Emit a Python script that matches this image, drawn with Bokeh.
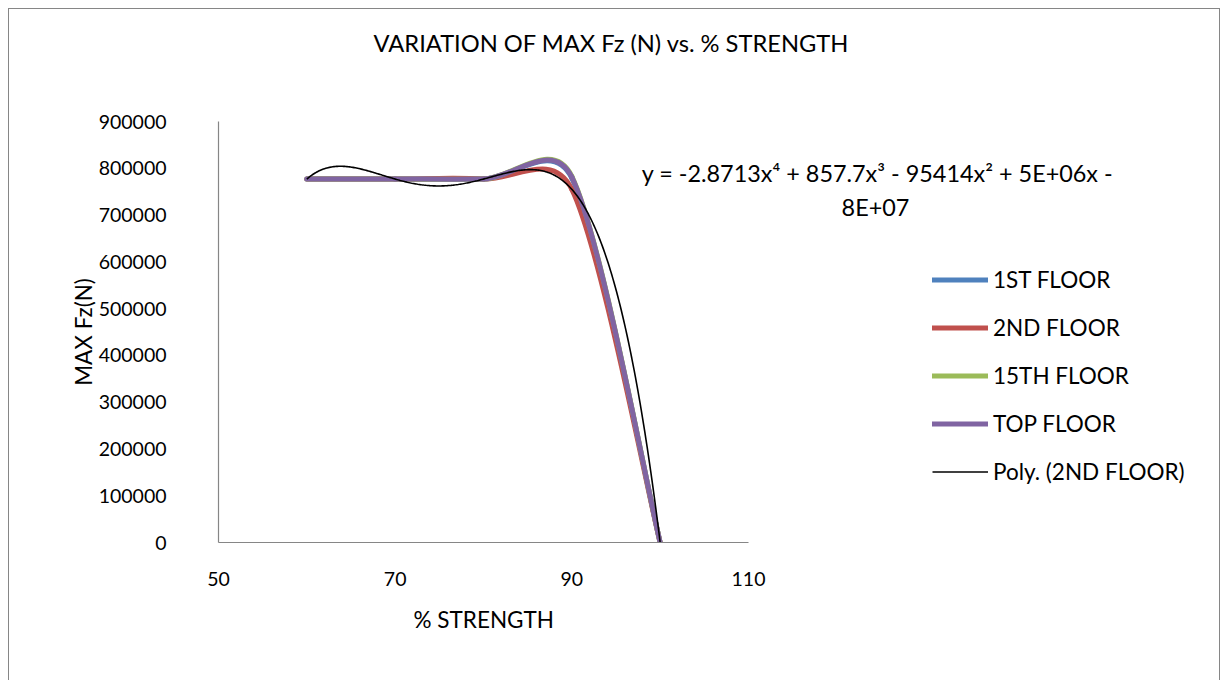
import numpy as np
from bokeh.plotting import figure
from bokeh.models import Range1d, Legend, LegendItem, Label, FixedTicker, BasicTickFormatter, Title
from bokeh.embed import file_html
from bokeh.resources import INLINE

# ---------------- data ----------------
strength = [60, 70, 80, 90, 100]
floor_1st = [777000, 777000, 777000, 779000, 0]
floor_2nd = [777000, 777000, 777000, 755000, 0]
floor_15th = [777000, 777000, 777000, 783000, 0]
floor_top = [777000, 777000, 777000, 781000, 0]

series_names = ["1ST FLOOR", "2ND FLOOR", "15TH FLOOR", "TOP FLOOR"]
series_colors = ["#4F81BD", "#C0504D", "#9BBB59", "#8064A2"]
x_ticks = [50, 70, 90, 110]
y_ticks = [0, 100000, 200000, 300000, 400000, 500000, 600000, 700000, 800000, 900000]

title_text = "VARIATION OF MAX Fz (N)  vs.  % STRENGTH"
x_title = "% STRENGTH"
y_title = "MAX Fz(N)"
eq_line1 = "y = -2.8713x\u2074 + 857.7x\u00b3 - 95414x\u00b2 + 5E+06x -"
eq_line2 = "8E+07"

# ---------------- geometry ----------------
X0, X1 = 50, 110          # visible axis extent
Y0, Y1 = 0, 900000
W, H = 1212, 672
LEFT, TOP, RIGHT = 209, 112, 2
AXIS_W, FRAME_H = 530, 421  # pixel length of the drawn x axis / frame height
PX_PER_X = AXIS_W / (X1 - X0)
X_END = X0 + (W - LEFT - RIGHT) / PX_PER_X   # frame extends right for legend/equation
OFF = 9  # page offset of canvas (8px margin + 1px border)
FONT = "Lato"
FS_NUM = "19.5px"
FS_TXT = "22.5px"
FS_TITLE = "23.7px"
FS_EQ = "23.4px"


def page_to_data(px, py):
    x = X0 + (px - OFF - LEFT) / PX_PER_X
    y = Y0 + (OFF + TOP + FRAME_H - py) / FRAME_H * (Y1 - Y0)
    return x, y


def excel_smooth(xs, ys):
    """Bezier segments as Excel's smoothed line (computed in screen space)."""
    sx = PX_PER_X
    sy = FRAME_H / (Y1 - Y0)
    P = [np.array([x * sx, y * sy]) for x, y in zip(xs, ys)]
    n = len(P)
    segs = {k: [] for k in ["x0", "y0", "x1", "y1", "cx0", "cy0", "cx1", "cy1"]}
    for i in range(n - 1):
        p0 = P[i - 1] if i > 0 else P[i]
        p1, p2 = P[i], P[i + 1]
        p3 = P[i + 2] if i + 2 < n else P[i + 1]
        d02 = np.linalg.norm(p2 - p0)
        d12 = np.linalg.norm(p2 - p1)
        d13 = np.linalg.norm(p3 - p1)
        f0 = 1 / 6
        f1 = 1 / 6
        if d02 > 0 and d02 / 6 >= d12 / 2:
            f0 = d12 / d02 / 2
        if d13 > 0 and d13 / 6 >= d12 / 2:
            f1 = d12 / d13 / 2
        c1 = p1 + f0 * (p2 - p0)
        c2 = p2 - f1 * (p3 - p1)
        segs["x0"].append(p1[0] / sx); segs["y0"].append(p1[1] / sy)
        segs["x1"].append(p2[0] / sx); segs["y1"].append(p2[1] / sy)
        segs["cx0"].append(c1[0] / sx); segs["cy0"].append(c1[1] / sy)
        segs["cx1"].append(c2[0] / sx); segs["cy1"].append(c2[1] / sy)
    return segs


p = figure(width=W, height=H, output_backend="svg", toolbar_location=None,
           x_range=Range1d(X0, X_END), y_range=Range1d(Y0, Y1),
           min_border_left=LEFT, min_border_top=TOP,
           min_border_right=RIGHT, min_border_bottom=H - TOP - FRAME_H)
p.styles = {"margin-left": "8px", "margin-top": "8px",
            "border-top": "1px solid #868686", "border-left": "1px solid #868686",
            "border-right": "1px solid #868686"}
p.outline_line_color = None
p.xgrid.grid_line_color = None
p.ygrid.grid_line_color = None
p.background_fill_color = "white"
p.border_fill_color = "white"
p.title.text = ""

for ax in (p.xaxis[0], p.yaxis[0]):
    ax.axis_line_color = "#868686"
    ax.axis_line_width = 1.2
    ax.major_tick_line_color = None
    ax.minor_tick_line_color = None
    ax.major_tick_in = 0
    ax.major_tick_out = 0
    ax.major_label_text_font = FONT
    ax.major_label_text_font_size = FS_NUM
    ax.major_label_text_color = "black"
    ax.axis_label_text_font = FONT
    ax.axis_label_text_font_size = FS_TXT
    ax.axis_label_text_font_style = "normal"
    ax.axis_label_text_color = "black"

p.xaxis.bounds = (X0, X1)
p.yaxis.bounds = (Y0, Y1)
p.xaxis.ticker = FixedTicker(ticks=x_ticks)
p.yaxis.ticker = FixedTicker(ticks=y_ticks)
p.yaxis.formatter = BasicTickFormatter(use_scientific=False)
p.xaxis.major_label_standoff = 29
p.yaxis.major_label_standoff = 52
p.yaxis.axis_label = y_title
p.yaxis.axis_label_standoff = -1

# chart title: a small spacer title sits between the frame and the real title
spacer = Title(text=" ", text_font_size="1px", standoff=62)
main_title = Title(text=title_text, align="left", offset=155, text_font=FONT,
                   text_font_size=FS_TITLE, text_font_style="normal",
                   text_color="black", standoff=0)
p.add_layout(spacer, "above")
p.add_layout(main_title, "above")

xt = Title(text=x_title, align="left", offset=195, text_font=FONT, text_font_size=FS_TXT,
           text_font_style="normal", text_color="black", standoff=30)
p.add_layout(xt, "below")

renderers = []
for name, color, ys in zip(series_names, series_colors,
                           [floor_1st, floor_2nd, floor_15th, floor_top]):
    segs = excel_smooth(strength, ys)
    r = p.bezier(source=segs, x0="x0", y0="y0", x1="x1", y1="y1",
                 cx0="cx0", cy0="cy0", cx1="cx1", cy1="cy1",
                 line_color=color, line_width=5, line_cap="round")
    renderers.append(r)

# polynomial (order 4) trendline of 2ND FLOOR
coef = np.polyfit(strength, floor_2nd, 4)
tx = np.linspace(min(strength), max(strength), 300)
ty = np.polyval(coef, tx)
rt = p.line(tx, ty, line_color="black", line_width=1.6)

items = [LegendItem(label=n, renderers=[r]) for n, r in zip(series_names, renderers)]
items.append(LegendItem(label="Poly. (2ND FLOOR)", renderers=[rt]))
legend = Legend(items=items, location=(714, 57))
legend.label_text_font = FONT
legend.label_text_font_size = FS_TXT
legend.label_text_color = "black"
legend.glyph_width = 56
legend.glyph_height = 27
legend.label_height = 27
legend.label_standoff = 5
legend.spacing = 21
legend.padding = 0
legend.margin = 0
legend.border_line_color = None
legend.background_fill_alpha = 0
p.add_layout(legend)

ex1, ey1 = page_to_data(877, 172)
p.add_layout(Label(x=ex1, y=ey1, text=eq_line1, text_align="center", text_baseline="middle",
                   text_font=FONT, text_font_size=FS_EQ, text_color="black"))
ex2, ey2 = page_to_data(875, 206)
p.add_layout(Label(x=ex2, y=ey2, text=eq_line2, text_align="center", text_baseline="middle",
                   text_font=FONT, text_font_size=FS_EQ, text_color="black"))

open("out.html", "w").write(file_html(p, INLINE))
